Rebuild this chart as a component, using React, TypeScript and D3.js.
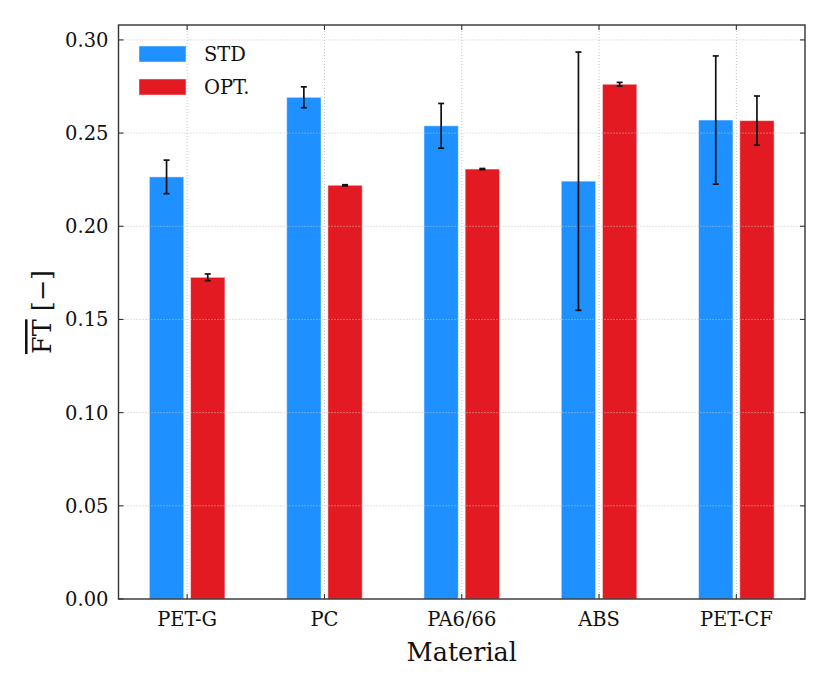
import { useEffect } from 'react'
import * as d3 from 'd3'

const materials = ['PET-G', 'PC', 'PA6/66', 'ABS', 'PET-CF']
const stdMean = [0.2265, 0.2692, 0.2539, 0.2242, 0.2570]
const stdErr = [0.009, 0.0056, 0.012, 0.0693, 0.0344]
const optMean = [0.1726, 0.2220, 0.2307, 0.2762, 0.2567]
const optErr = [0.0018, 0.0003, 0.0003, 0.001, 0.0132]
const yTicks = [0, 0.05, 0.1, 0.15, 0.2, 0.25, 0.3]

const series = [
  { name: 'STD', color: '#1e90ff', means: stdMean, errs: stdErr, offset: -0.15 },
  { name: 'OPT.', color: '#e31a22', means: optMean, errs: optErr, offset: 0.15 },
]

const W = 830
const H = 692
const margin = { top: 25, right: 25, bottom: 93, left: 118.5 }
const FONT = '"DejaVu Serif", serif'

export default function App() {
  useEffect(() => {
    document.body.style.margin = '0'
  }, [])

  const x = d3
    .scaleLinear()
    .domain([-0.5, materials.length - 0.5])
    .range([margin.left, W - margin.right])
  const y = d3
    .scaleLinear()
    .domain([0, 0.308])
    .range([H - margin.bottom, margin.top])

  const barW = x(0.25) - x(0)
  const cap = 3
  const tick = 5
  const x0 = x.range()[0]
  const x1 = x.range()[1]
  const y0 = y.range()[0]
  const y1 = y.range()[1]

  return (
    <svg width={W} height={H} style={{ display: 'block', background: '#fff' }} fontFamily={FONT}>
      {/* bars */}
      {series.map((s) =>
        s.means.map((m, i) => (
          <rect
            key={s.name + i}
            x={x(i + s.offset) - barW / 2}
            y={y(m)}
            width={barW}
            height={y(0) - y(m)}
            fill={s.color}
            stroke="#ffffff"
            strokeOpacity={0.45}
            strokeWidth={1}
          />
        ))
      )}

      {/* grid */}
      <g stroke="#c4c4c4" strokeWidth={1} strokeDasharray="1,2">
        {yTicks.slice(1).map((t) => (
          <line key={'gy' + t} x1={x0} x2={x1} y1={y(t)} y2={y(t)} />
        ))}
        {materials.map((_, i) => (
          <line key={'gx' + i} x1={x(i)} x2={x(i)} y1={y0} y2={y1} />
        ))}
      </g>

      {/* error bars */}
      <g stroke="#111" strokeWidth={1.7}>
        {series.map((s) =>
          s.means.map((m, i) => {
            const cx = x(i + s.offset)
            const lo = y(m - s.errs[i])
            const hi = y(m + s.errs[i])
            return (
              <g key={'e' + s.name + i}>
                <line x1={cx} x2={cx} y1={lo} y2={hi} />
                <line x1={cx - cap} x2={cx + cap} y1={lo} y2={lo} />
                <line x1={cx - cap} x2={cx + cap} y1={hi} y2={hi} />
              </g>
            )
          })
        )}
      </g>

      {/* ticks, inward on all sides */}
      <g stroke="#333" strokeWidth={1.1}>
        {yTicks.map((t) => (
          <g key={'ty' + t}>
            <line x1={x0} x2={x0 + tick} y1={y(t)} y2={y(t)} />
            <line x1={x1} x2={x1 - tick} y1={y(t)} y2={y(t)} />
          </g>
        ))}
        {materials.map((_, i) => (
          <g key={'tx' + i}>
            <line x1={x(i)} x2={x(i)} y1={y0} y2={y0 - tick} />
            <line x1={x(i)} x2={x(i)} y1={y1} y2={y1 + tick} />
          </g>
        ))}
      </g>

      {/* frame */}
      <rect
        x={x0}
        y={y1}
        width={x1 - x0}
        height={y0 - y1}
        fill="none"
        stroke="#333"
        strokeWidth={1.4}
      />

      {/* tick labels */}
      {yTicks.map((t) => (
        <text
          key={'ly' + t}
          x={x0 - 10}
          y={y(t)}
          dy="0.36em"
          textAnchor="end"
          fontSize={19.5}
          fill="#111"
        >
          {d3.format('.2f')(t)}
        </text>
      ))}
      {materials.map((m, i) => (
        <text key={'lx' + m} x={x(i)} y={y0 + 27} textAnchor="middle" fontSize={19.5} fill="#111">
          {m}
        </text>
      ))}

      {/* axis titles */}
      <text x={(x0 + x1) / 2} y={661} textAnchor="middle" fontSize={25.5} fill="#111">
        Material
      </text>
      <text
        transform={`translate(51,${(y0 + y1) / 2}) rotate(-90)`}
        textAnchor="middle"
        fontSize={25.5}
        fill="#111"
      >
        <tspan style={{ textDecoration: 'overline' }}>FT</tspan>
        <tspan> [−]</tspan>
      </text>

      {/* legend */}
      {series.map((s, i) => (
        <g key={'lg' + s.name} transform={`translate(139,${46 + i * 33})`}>
          <rect width={47} height={16} fill={s.color} stroke="#fff" strokeOpacity={0.45} />
          <text x={65} y={8} dy="0.36em" fontSize={19.5} fill="#111">
            {s.name}
          </text>
        </g>
      ))}
    </svg>
  )
}
